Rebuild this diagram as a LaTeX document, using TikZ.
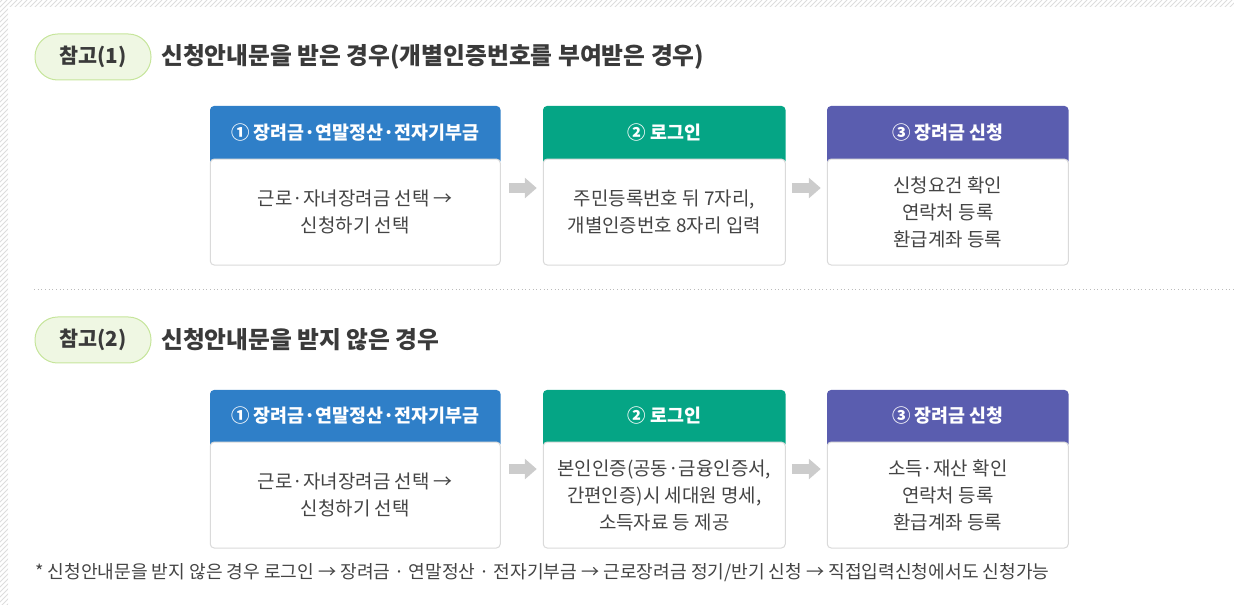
\documentclass[tikz,border=0pt]{standalone}
\usepackage{fontspec}
\setmainfont{Noto Sans CJK KR}
\usetikzlibrary{calc,backgrounds,arrows.meta,positioning}
\definecolor{hblue}{HTML}{2F7FC8}
\definecolor{hgreen}{HTML}{05A585}
\definecolor{hpurple}{HTML}{5A5DAF}
\definecolor{pillfill}{HTML}{EFF7E3}
\definecolor{pillline}{HTML}{C6E59B}
\definecolor{txt}{HTML}{3A3A3A}
\definecolor{bodytxt}{HTML}{444444}
\definecolor{boxline}{HTML}{DADADA}
\definecolor{arrowgray}{HTML}{CCCCCC}
\definecolor{hatch}{HTML}{DDDDDD}
\definecolor{sepline}{HTML}{BBBBBB}
\begin{document}
\begin{tikzpicture}[x=0.75pt,y=-0.75pt,
  pill/.style={draw=pillline, line width=0.75pt, fill=pillfill, rounded corners=17pt,
    minimum width=87pt, minimum height=34.5pt, inner sep=0pt, font=\fontsize{15.5}{18}\selectfont\bfseries, text=txt},
  title/.style={anchor=west, inner sep=0pt, font=\fontsize{17.8}{21}\selectfont\bfseries, text=txt},
  hdr/.style={anchor=north west, inner sep=0pt, minimum height=39pt, text=white,
    font=\fontsize{13.8}{16}\selectfont\bfseries},
  bodybox/.style={anchor=north, inner sep=0pt, draw=boxline, line width=0.75pt, fill=white,
    rounded corners=3pt, minimum height=79.5pt, align=center, text=bodytxt,
    font=\fontsize{14.2}{20.25}\selectfont},
  garrow/.style={draw=arrowgray, line width=7.5pt, -{Triangle[length=9pt,width=15pt]}},
  note/.style={anchor=west, inner sep=0pt, text=bodytxt, font=\fontsize{13.6}{16}\selectfont}
]
\useasboundingbox (0,0) rectangle (1234,605);
% hatched frame
\begin{scope}
  \clip (0,0) rectangle (1234,7) (0,0) rectangle (8,605);
  \foreach \k in {-620,-615,...,1240} {
    \draw[hatch, line width=0.6pt] (\k,612) -- (\k+612,0);
  }
\end{scope}

% ---- section 1 ----
\node[pill] (p1) at (93,57) {참고(1)};
\node[title] (t1) at (161,57) {신청안내문을 받은 경우(개별인증번호를 부여받은 경우)};

\node[hdr, minimum width=217.5pt] (h1) at (210,106) {① 장려금·연말정산·전자기부금};
\node[bodybox, minimum width=217.5pt] (b1) at (h1.south) {근로·자녀장려금 선택 →\\신청하기 선택};
\node[hdr, minimum width=181.5pt] (h2) at (543,106) {② 로그인};
\node[bodybox, minimum width=181.5pt] (b2) at (h2.south) {주민등록번호 뒤 7자리,\\개별인증번호 8자리 입력};
\node[hdr, minimum width=180.75pt] (h3) at (827,106) {③ 장려금 신청};
\node[bodybox, minimum width=180.75pt] (b3) at (h3.south) {신청요건 확인\\연락처 등록\\환급계좌 등록};

\begin{scope}[on background layer]
  \fill[hblue, rounded corners=3pt] (h1.north west) rectangle ($(h1.south east)+(0,6)$);
  \fill[hgreen, rounded corners=3pt] (h2.north west) rectangle ($(h2.south east)+(0,6)$);
  \fill[hpurple, rounded corners=3pt] (h3.north west) rectangle ($(h3.south east)+(0,6)$);
\end{scope}

\draw[garrow] ($(b1.east)+(8,-24)$) -- ($(b2.west)+(-6,-24)$);
\draw[garrow] ($(b2.east)+(6,-24)$) -- ($(b3.west)+(-6,-24)$);

% separator
\coordinate (s1) at (34,290);
\coordinate (s2) at (1234,290);
\draw[sepline, line width=0.75pt, dotted] (s1) -- (s2);

% ---- section 2 ----
\node[pill] (p2) at (93,340) {참고(2)};
\node[title] (t2) at (161,340) {신청안내문을 받지 않은 경우};

\node[hdr, minimum width=217.5pt, minimum height=38.25pt] (h4) at (210,390) {① 장려금·연말정산·전자기부금};
\node[bodybox, minimum width=217.5pt] (b4) at (h4.south) {근로·자녀장려금 선택 →\\신청하기 선택};
\node[hdr, minimum width=181.5pt, minimum height=38.25pt] (h5) at (543,390) {② 로그인};
\node[bodybox, minimum width=181.5pt] (b5) at (h5.south) {본인인증(공동·금융인증서,\\간편인증)시 세대원 명세,\\소득자료 등 제공};
\node[hdr, minimum width=180.75pt, minimum height=38.25pt] (h6) at (827,390) {③ 장려금 신청};
\node[bodybox, minimum width=180.75pt] (b6) at (h6.south) {소득·재산 확인\\연락처 등록\\환급계좌 등록};

\begin{scope}[on background layer]
  \fill[hblue, rounded corners=3pt] (h4.north west) rectangle ($(h4.south east)+(0,6)$);
  \fill[hgreen, rounded corners=3pt] (h5.north west) rectangle ($(h5.south east)+(0,6)$);
  \fill[hpurple, rounded corners=3pt] (h6.north west) rectangle ($(h6.south east)+(0,6)$);
\end{scope}

\draw[garrow] ($(b4.east)+(8,-26)$) -- ($(b5.west)+(-6,-26)$);
\draw[garrow] ($(b5.east)+(6,-26)$) -- ($(b6.west)+(-6,-26)$);

\node[note] (n1) at (35,573) {* 신청안내문을 받지 않은 경우 로그인 → 장려금 · 연말정산 · 전자기부금 → 근로장려금 정기/반기 신청 → 직접입력신청에서도 신청가능};
\end{tikzpicture}
\end{document}
